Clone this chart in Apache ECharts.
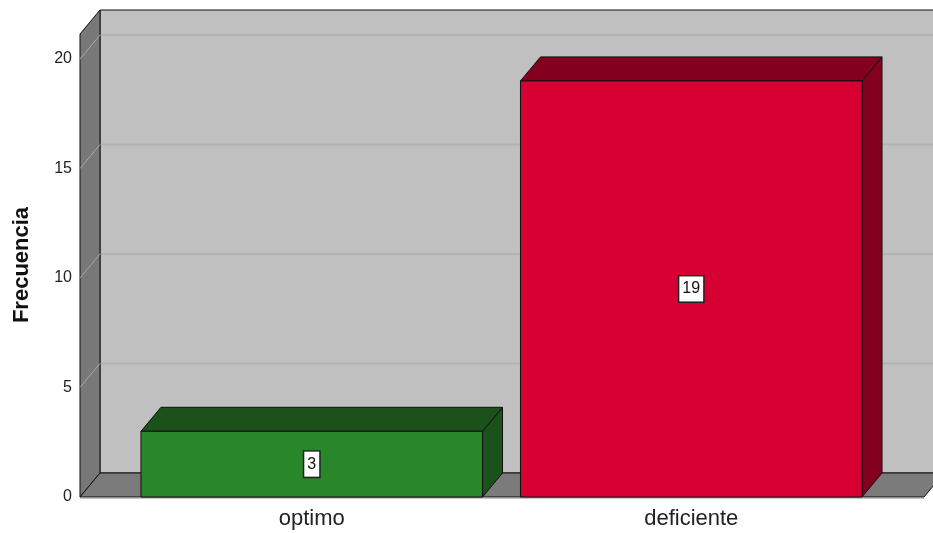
<!DOCTYPE html>
<html>
<head>
<meta charset="utf-8">
<script src="https://cdn.jsdelivr.net/npm/echarts@6/dist/echarts.min.js"></script>
<style>html,body{margin:0;padding:0;background:#fff}#c{width:933px;height:533px}</style>
</head>
<body>
<div id="c"></div>
<script>
var categories = ['optimo', 'deficiente'];
var frecuencia = [3, 19];
var yTicks = [0, 5, 10, 15, 20];
var frontColors = ['#29862a', '#d60032'];
var darkColors = ['#1b511b', '#84001f'];

var DX = 20, DY = -24;
var FONT = '"Liberation Sans", Arial, sans-serif';

var chart = echarts.init(document.getElementById('c'), null, {renderer: 'canvas'});

function wallsRender(params, api) {
  var cs = params.coordSys;
  var left = cs.x - 42, right = cs.x + cs.width + 43;
  var top = cs.y - 25;
  var y0 = api.coord([0, 0])[1];
  var children = [];
  children.push({type: 'rect', shape: {x: left + DX, y: top + DY, width: 1200, height: y0 - top},
    style: {fill: '#c0c0c0', stroke: '#111', lineWidth: 1}});
  yTicks.forEach(function (v) {
    if (v === 0) return;
    var y = api.coord([0, v])[1];
    children.push({type: 'line', shape: {x1: left + DX, y1: y + DY, x2: 1200, y2: y + DY},
      style: {stroke: '#b2b2b2', lineWidth: 2}});
  });
  children.push({type: 'polygon', shape: {points: [[left, top], [left + DX, top + DY], [left + DX, y0 + DY], [left, y0]]},
    style: {fill: '#787878', stroke: '#111', lineWidth: 1}});
  yTicks.forEach(function (v) {
    if (v === 0) return;
    var y = api.coord([0, v])[1];
    children.push({type: 'line', shape: {x1: left, y1: y, x2: left + DX, y2: y + DY},
      style: {stroke: '#a8a8a8', lineWidth: 1}});
  });
  children.push({type: 'polygon', shape: {points: [[left, y0], [left + DX, y0 + DY], [right + DX, y0 + DY], [right, y0]]},
    style: {fill: '#7b7b7b', stroke: '#111', lineWidth: 1}});
  children.push({type: 'line', shape: {x1: left, y1: y0 + 1.5, x2: right, y2: y0 + 1.5},
    style: {stroke: '#c8c8c8', lineWidth: 1}});
  return {type: 'group', children: children};
}

function barRender(params, api) {
  var idx = api.value(0);
  var val = api.value(1);
  var c = api.coord([idx, val]);
  var base = api.coord([idx, 0])[1];
  var mid = api.coord([idx, val / 2])[1];
  var w = api.size([1, 0])[0] * 0.9;
  var x0 = c[0] - w / 2, x1 = c[0] + w / 2, yv = c[1];
  var front = frontColors[params.dataIndex], dark = darkColors[params.dataIndex];
  return {type: 'group', children: [
    {type: 'polygon', shape: {points: [[x1, yv], [x1 + DX, yv + DY], [x1 + DX, base + DY], [x1, base]]},
      style: {fill: dark, stroke: '#111', lineWidth: 1}},
    {type: 'polygon', shape: {points: [[x0, yv], [x0 + DX, yv + DY], [x1 + DX, yv + DY], [x1, yv]]},
      style: {fill: dark, stroke: '#111', lineWidth: 1}},
    {type: 'rect', shape: {x: x0, y: yv, width: w, height: base - yv},
      style: {fill: front, stroke: '#111', lineWidth: 1}},
    {type: 'text', x: c[0], y: mid, style: {text: String(val), fill: '#111', font: '16px ' + FONT,
      align: 'center', verticalAlign: 'middle', backgroundColor: '#fff', borderColor: '#222', borderWidth: 1.5,
      padding: [5, 3, 4, 3]}}
  ]};
}

chart.setOption({
  animation: false,
  backgroundColor: '#fff',
  grid: {left: 122, right: 52, top: 59, bottom: 36},
  xAxis: {
    type: 'category', data: categories,
    axisLine: {show: false}, axisTick: {show: false},
    axisLabel: {color: '#222', fontSize: 22, fontFamily: FONT, margin: 11}
  },
  yAxis: {
    type: 'value', min: 0, max: 20, interval: 5, offset: 42,
    name: 'Frecuencia', nameLocation: 'middle', nameGap: 47, nameRotate: 90,
    nameTextStyle: {color: '#111', fontSize: 22, fontWeight: 'bold', fontFamily: FONT, padding: [0, 0, 0, 26]},
    axisLine: {show: false}, axisTick: {show: false}, splitLine: {show: false},
    axisLabel: {color: '#222', fontSize: 16, fontFamily: FONT, margin: 8}
  },
  series: [
    {type: 'custom', z: 1, renderItem: wallsRender, data: [[0, 0]], silent: true},
    {type: 'custom', z: 2, renderItem: barRender,
      data: categories.map(function (c, i) { return [i, frecuencia[i]]; })}
  ]
});
</script>
</body>
</html>
